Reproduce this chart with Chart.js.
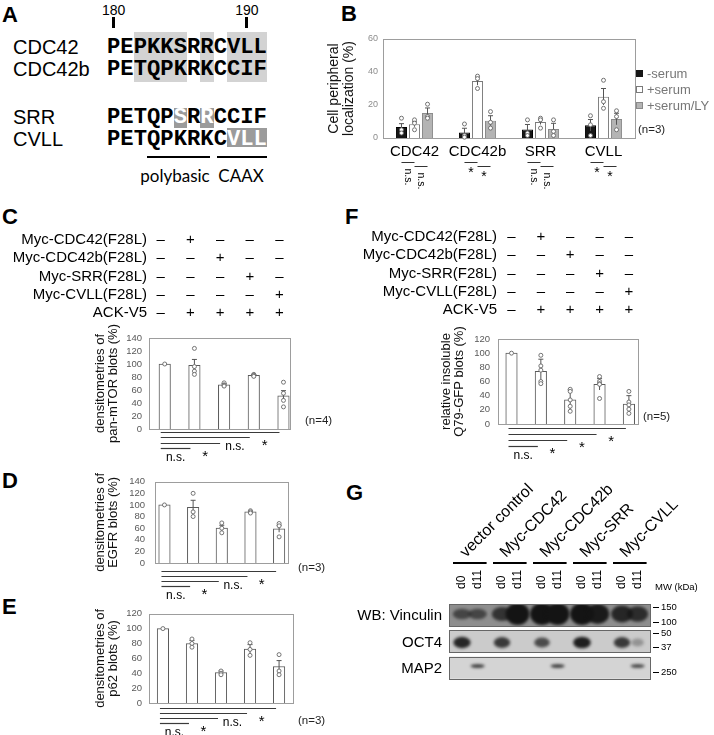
<!DOCTYPE html>
<html>
<head>
<meta charset="utf-8">
<script src="https://cdn.jsdelivr.net/npm/chart.js@4.4.1/dist/chart.umd.min.js"></script>
<style>
body { margin: 0; background: #fff; }
#page { position: relative; width: 714px; height: 735px; overflow: hidden; font-family: "Liberation Sans", Arial, sans-serif; color: #000; }
.t { position: absolute; white-space: pre; line-height: normal; }
.r { position: absolute; }
canvas { position: absolute; }
</style>
</head>
<body>
<div id="page"></div>
<script>
// ---- data ----
var seqNames = ['CDC42', 'CDC42b', 'SRR', 'CVLL'];
var seqs = ['PEPKKSRRCVLL', 'PETQPKRKCCIF', 'PETQPSRRCCIF', 'PETQPKRKCVLL'];

var locCats = ['CDC42', 'CDC42b', 'SRR', 'CVLL'];
var locSeries = ['-serum', '+serum', '+serum/LY'];
var locNoSerum = [6.7, 3.4, 5.2, 7.7];
var locSerum = [8.3, 34.5, 9.7, 25];
var locSerumLY = [15.2, 10.5, 5.4, 11.5];
var locNoSerumErr = [2, 2.5, 3, 3.5];
var locSerumErr = [1.5, 2.5, 1.5, 5];
var locSerumLYErr = [3, 3, 3.5, 3.5];
var locNoSerumPts = [[12, 5, 3], [8.5, 1.5, 0.5], [11, 3, 1.5], [13.5, 8, 1.5]];
var locSerumPts = [[11, 9, 5], [37.5, 36, 30], [12, 11, 6], [35, 22, 18]];
var locSerumLYPts = [[20.5, 13, 12], [16, 9.5, 6], [11, 4, 1.5], [16.5, 13, 5]];
var locSig = [['n.s.', 'n.s.'], ['*', '*'], ['n.s.', 'n.s.'], ['*', '*']];

var condRows = ['Myc-CDC42(F28L)', 'Myc-CDC42b(F28L)', 'Myc-SRR(F28L)', 'Myc-CVLL(F28L)', 'ACK-V5'];
var condSigns = [
    ['\u2013', '+', '\u2013', '\u2013', '\u2013'],
    ['\u2013', '\u2013', '+', '\u2013', '\u2013'],
    ['\u2013', '\u2013', '\u2013', '+', '\u2013'],
    ['\u2013', '\u2013', '\u2013', '\u2013', '+'],
    ['\u2013', '+', '+', '+', '+']
];

var mtorMeans = [100, 98, 68, 82.5, 51];
var mtorErr = [0, 9, 2, 1, 8];
var mtorPts = [[100], [124, 96, 89, 84], [71, 68, 67, 66], [84, 83, 82, 81], [72, 55, 44, 34]];
var mtorSig = ['n.s.', '*', 'n.s.', '*'];

var egfrMeans = [100, 96, 60, 88, 59];
var egfrErr = [0, 12, 5, 1.5, 6];
var egfrPts = [[100], [120, 88, 80], [69, 60, 52], [90, 88, 86], [68, 64, 45]];
var egfrSig = ['n.s.', '*', 'n.s.', '*'];

var p62Means = [100, 80, 41, 72.5, 49];
var p62Err = [0, 4, 2, 6, 8];
var p62Pts = [[100], [86, 80, 75], [43, 40, 38], [81, 72, 64], [65, 43, 38]];
var p62Sig = ['n.s.', '*', 'n.s.', '*'];

var q79Means = [100, 74.5, 34, 56, 28];
var q79Err = [0, 17, 14, 8, 12];
var q79Pts = [[100], [97, 82, 76, 60, 57], [49, 46, 34, 25, 18], [67, 60, 57, 56, 36], [46, 31, 27, 21, 15]];
var q79Sig = ['n.s.', '*', '*', '*'];

var laneGroups = ['vector control', 'Myc-CDC42', 'Myc-CDC42b', 'Myc-SRR', 'Myc-CVLL'];
var laneDays = ['d0', 'd11'];
var blotNames = ['WB: Vinculin', 'OCT4', 'MAP2'];
var vinculinBand = [0.6, 0.6, 0.75, 1, 1, 1, 1, 0.95, 0.85, 0.8];
var oct4Band = [0.9, 0, 0.8, 0, 0.7, 0, 0.95, 0, 0.8, 0.3];
var map2Band = [0, 0.85, 0, 0, 0, 0.85, 0, 0, 0, 0.8];
var mwLabels = ['150', '100', '50', '37', '250'];
var mwRowPos = [0.11, 0.68, 1.1, 1.63, 2.58];

// ---- helpers ----
var page = document.getElementById('page');
var SANS = '"Liberation Sans", Arial, sans-serif';
Chart.defaults.font.family = SANS;
Chart.defaults.color = '#000';

function txt(s, x, y, css, align) {
    var d = document.createElement('div');
    d.className = 't';
    d.style.cssText = css || '';
    d.style.left = x + 'px';
    d.style.top = y + 'px';
    var tx = align === 'right' ? '-100%' : (align === 'center' ? '-50%' : '0');
    d.style.transform = 'translate(' + tx + ',-50%)';
    d.textContent = s;
    page.appendChild(d);
    return d;
}
function rect(x, y, w, h, css) {
    var d = document.createElement('div');
    d.className = 'r';
    d.style.cssText = 'left:' + x + 'px;top:' + y + 'px;width:' + w + 'px;height:' + h + 'px;' + css;
    page.appendChild(d);
}
function addCanvas(x, y, w, h) {
    var c = document.createElement('canvas');
    c.width = w; c.height = h;
    c.style.left = x + 'px'; c.style.top = y + 'px';
    page.appendChild(c);
    return c;
}

// panel letters
[['A', 2, 15], ['B', 341, 14], ['C', 2, 217], ['F', 345, 217], ['D', 2, 481], ['G', 346, 493], ['E', 2, 607]].forEach(function (l) {
    txt(l[0], l[1], l[2], 'font-weight:bold;font-size:22px;');
});

// ---- panel A: sequences ----
var seqX = 107, cw = 13.32;
function seqRect(i0, i1, y0, y1, col) {
    rect(seqX + i0 * cw, y0, (i1 - i0 + 1) * cw, y1 - y0, 'background:' + col + ';');
}
seqRect(2, 5, 32, 82, '#d3d3d3');
seqRect(7, 7, 32, 82, '#d3d3d3');
seqRect(9, 11, 32, 82, '#d3d3d3');
seqRect(5, 5, 108, 128, '#9b9b9b');
seqRect(7, 7, 108, 128, '#9b9b9b');
seqRect(9, 11, 128, 147, '#9b9b9b');
var whiteIdx = [[], [], [5, 7], [9, 10, 11]];
var seqY = [47, 69, 117, 139];
seqs.forEach(function (s, r) {
    txt(seqNames[r], 13, seqY[r], 'font-size:20px;');
    var d = txt('', seqX, seqY[r], 'font-family:"Liberation Mono",monospace;font-weight:bold;font-size:22.2px;');
    s.split('').forEach(function (ch, i) {
        var sp = document.createElement('span');
        sp.textContent = ch;
        if (whiteIdx[r].indexOf(i) >= 0) sp.style.color = '#fff';
        d.appendChild(sp);
    });
});
txt('180', seqX + 0.5 * cw, 10, 'font-size:14px;', 'center');
txt('190', seqX + 10.5 * cw, 10, 'font-size:14px;', 'center');
rect(seqX + 0.5 * cw - 1.5, 17, 3, 11, 'background:#000;');
rect(seqX + 10.5 * cw - 1.5, 17, 3, 11, 'background:#000;');
rect(147, 156, 63, 2, 'background:#000;');
rect(217, 156, 50, 2, 'background:#000;');
txt('polybasic', 175, 175, 'font-family:Lato,"Noto Sans",sans-serif;font-size:17px;', 'center');
txt('CAAX', 241, 175, 'font-family:Lato,"Noto Sans",sans-serif;font-size:17px;', 'center');

// ---- shared chart plugins ----
var panelMarks = {
    id: 'panelMarks',
    afterDatasetsDraw: function (chart) {
        var ctx = chart.ctx, a = chart.chartArea, y = chart.scales.y;
        ctx.save();
        ctx.strokeStyle = '#9d9d9d';
        ctx.lineWidth = 1;
        ctx.strokeRect(Math.round(a.left) + 0.5, Math.round(a.top) + 0.5, Math.round(a.right - a.left), Math.round(a.bottom - a.top));
        chart.data.datasets.forEach(function (ds, di) {
            chart.getDatasetMeta(di).data.forEach(function (bar, i) {
                var v = ds.data[i];
                var m = typeof v === 'object' ? v.y : v;
                var e = ds.err[i];
                if (e) {
                    var t = y.getPixelForValue(m + e), b = y.getPixelForValue(m - e);
                    ctx.strokeStyle = '#555';
                    ctx.lineWidth = 1;
                    ctx.beginPath();
                    ctx.moveTo(bar.x, t); ctx.lineTo(bar.x, b);
                    ctx.moveTo(bar.x - 2.5, t); ctx.lineTo(bar.x + 2.5, t);
                    ctx.stroke();
                }
                ds.pts[i].forEach(function (p) {
                    ctx.beginPath();
                    ctx.arc(bar.x, y.getPixelForValue(p), 2, 0, 2 * Math.PI);
                    ctx.fillStyle = '#fff';
                    ctx.fill();
                    ctx.strokeStyle = '#666';
                    ctx.lineWidth = 0.9;
                    ctx.stroke();
                });
            });
        });
        ctx.restore();
    }
};

// stacked comparison lines under the single-series panels
var sigLines = {
    id: 'sigLines',
    afterDraw: function (chart, args, o) {
        var ctx = chart.ctx, bars = chart.getDatasetMeta(0).data, base = chart.chartArea.bottom;
        var n = bars.length, x0 = bars[0].x + o.dx, prev = x0;
        ctx.save();
        ctx.strokeStyle = '#3a3a3a';
        ctx.lineWidth = 1.2;
        ctx.fillStyle = '#000';
        ctx.textAlign = 'center';
        ctx.textBaseline = 'middle';
        for (var k = 1; k < n; k++) {
            var ly = Math.round(base + o.gap0 + (n - 1 - k) * o.step) + 0.5;
            var end = bars[k].x + o.dx;
            ctx.beginPath(); ctx.moveTo(x0, ly); ctx.lineTo(end, ly); ctx.stroke();
            var lab = o.labels[k - 1], mx = (prev + end) / 2;
            if (lab === '*') {
                ctx.font = '15px ' + SANS;
                ctx.fillText('*', mx, ly + 13);
            } else {
                ctx.font = '12px ' + SANS;
                ctx.fillText(lab, mx, ly + 9);
            }
            prev = end;
        }
        ctx.restore();
    }
};

var condTable = {
    id: 'condTable',
    afterDraw: function (chart, args, o) {
        var ctx = chart.ctx, bars = chart.getDatasetMeta(0).data;
        ctx.save();
        ctx.font = '15px ' + SANS;
        ctx.fillStyle = '#000';
        ctx.textBaseline = 'middle';
        condRows.forEach(function (name, r) {
            var yy = o.y0 + r * o.dy;
            ctx.textAlign = 'right';
            ctx.fillText(name, o.labelX, yy);
            ctx.textAlign = 'center';
            condSigns[r].forEach(function (s, c) {
                ctx.fillText(s, bars[c].x + o.dx, yy);
            });
        });
        ctx.restore();
    }
};

function barPanel(cfg) {
    var cv = addCanvas(cfg.x, cfg.y, cfg.w, cfg.h);
    var a = cfg.area;
    var plugs = { legend: { display: false }, tooltip: { enabled: false }, sigLines: cfg.sig };
    if (cfg.cond) plugs.condTable = cfg.cond;
    return new Chart(cv.getContext('2d'), {
        type: 'bar',
        data: {
            datasets: [{
                data: cfg.means.map(function (v, i) { return { x: i + 1, y: v }; }),
                err: cfg.err,
                pts: cfg.pts,
                backgroundColor: '#ffffff',
                borderColor: '#5a5a5a',
                borderWidth: 1,
                barThickness: 11.5
            }]
        },
        options: {
            responsive: false,
            animation: false,
            events: [],
            layout: { padding: { left: a.l - cfg.x - cfg.yw, right: cfg.x + cfg.w - a.r, top: a.t - cfg.y, bottom: cfg.y + cfg.h - a.b } },
            plugins: plugs,
            scales: {
                x: { type: 'linear', min: cfg.xMin, max: cfg.xMax, offset: false, display: false },
                y: {
                    min: 0, max: cfg.yMax,
                    grid: { display: false, drawTicks: false },
                    border: { display: false },
                    ticks: { stepSize: 20, autoSkip: false, padding: cfg.tickPad, color: '#595959', font: { size: 9.5 } },
                    title: { display: true, text: cfg.title, color: '#111', padding: 0, font: { size: 13, lineHeight: 1 } },
                    afterFit: function (s) { s.width = cfg.yw; }
                }
            }
        },
        plugins: cfg.cond ? [panelMarks, sigLines, condTable] : [panelMarks, sigLines]
    });
}

// ---- panel B ----
var pairSig = {
    id: 'pairSig',
    afterDraw: function (chart, args, o) {
        var ctx = chart.ctx, base = chart.chartArea.bottom;
        var metas = [0, 1, 2].map(function (d) { return chart.getDatasetMeta(d).data; });
        ctx.save();
        ctx.strokeStyle = '#333';
        ctx.lineWidth = 1;
        ctx.fillStyle = '#000';
        o.labels.forEach(function (pair, i) {
            var xs = [metas[0][i].x, metas[1][i].x, metas[2][i].x];
            for (var k = 0; k < 2; k++) {
                var ly = Math.round(base + o.gap + k * o.step) + 0.5;
                ctx.beginPath(); ctx.moveTo(xs[k], ly); ctx.lineTo(xs[k + 1], ly); ctx.stroke();
                var mx = (xs[k] + xs[k + 1]) / 2;
                if (pair[k] === '*') {
                    ctx.font = '14px ' + SANS;
                    ctx.textAlign = 'center';
                    ctx.textBaseline = 'middle';
                    ctx.fillText('*', mx, ly + 11);
                } else {
                    ctx.save();
                    ctx.translate(mx, ly + 6);
                    ctx.rotate(Math.PI / 2);
                    ctx.font = '10.5px ' + SANS;
                    ctx.textAlign = 'left';
                    ctx.textBaseline = 'middle';
                    ctx.fillText(pair[k], 0, 0);
                    ctx.restore();
                }
            }
        });
        ctx.restore();
    }
};

var bCanvas = addCanvas(322, 20, 320, 178);
new Chart(bCanvas.getContext('2d'), {
    type: 'bar',
    data: {
        labels: locCats,
        datasets: [
            { label: locSeries[0], data: locNoSerum, err: locNoSerumErr, pts: locNoSerumPts, backgroundColor: '#161616', borderColor: '#000', borderWidth: 1 },
            { label: locSeries[1], data: locSerum, err: locSerumErr, pts: locSerumPts, backgroundColor: '#ffffff', borderColor: '#7a7a7a', borderWidth: 1 },
            { label: locSeries[2], data: locSerumLY, err: locSerumLYErr, pts: locSerumLYPts, backgroundColor: '#b4b4b4', borderColor: '#8a8a8a', borderWidth: 1 }
        ]
    },
    options: {
        responsive: false,
        animation: false,
        events: [],
        categoryPercentage: 0.62,
        barPercentage: 0.85,
        layout: { padding: { left: 4.5, right: 7, top: 19, bottom: 30 } },
        plugins: { legend: { display: false }, tooltip: { enabled: false }, pairSig: { labels: locSig, gap: 24, step: 4 } },
        scales: {
            x: {
                grid: { display: false, drawTicks: false },
                border: { display: false },
                ticks: { padding: 5, color: '#000', font: { size: 15 }, maxRotation: 0, minRotation: 0, autoSkip: false },
                afterFit: function (s) { s.height = 30; }
            },
            y: {
                min: 0, max: 60,
                grid: { display: false, drawTicks: false },
                border: { display: false },
                ticks: { stepSize: 20, autoSkip: false, padding: 5, color: '#8c8c8c', font: { size: 9 } },
                title: { display: true, text: ['Cell peripheral', 'localization (%)'], color: '#111', padding: 0, font: { size: 14, lineHeight: 15 / 14 } },
                afterFit: function (s) { s.width = 56.5; }
            }
        }
    },
    plugins: [panelMarks, pairSig]
});

// legend for B
var legendY = [73, 89, 105];
var legendSw = ['background:#161616;', 'background:#fff;border:1px solid #7a7a7a;box-sizing:border-box;', 'background:#b4b4b4;border:1px solid #8a8a8a;box-sizing:border-box;'];
locSeries.forEach(function (s, i) {
    rect(636, legendY[i] - 3.5, 7, 7, legendSw[i]);
    txt(s, 647, legendY[i], 'font-size:13px;color:#777;');
});
txt('(n=3)', 638, 129, 'font-size:11.5px;color:#222;');

// ---- panels C, D, E, F ----
barPanel({
    x: 0, y: 226, w: 345, h: 240, yw: 55, tickPad: 7,
    area: { l: 149, r: 290, t: 338, b: 429 }, xMin: 0.47, xMax: 5.22, yMax: 140,
    means: mtorMeans, err: mtorErr, pts: mtorPts,
    title: ['densitometries of', 'pan-mTOR blots (%)'],
    sig: { labels: mtorSig, gap0: 3, step: 5.3, dx: -4 },
    cond: { y0: 14, dy: 18.2, labelX: 147, dx: -4 }
});
txt('(n=4)', 305, 420, 'font-size:11.5px;color:#222;');

barPanel({
    x: 0, y: 466, w: 345, h: 135, yw: 61, tickPad: 10,
    area: { l: 155, r: 288, t: 474, b: 563 }, xMin: 0.67, xMax: 5.31, yMax: 140,
    means: egfrMeans, err: egfrErr, pts: egfrPts,
    title: ['densitometries of', 'EGFR blots (%)'],
    sig: { labels: egfrSig, gap0: 8, step: 5, dx: -3 }
});
txt('(n=3)', 298, 567, 'font-size:11.5px;color:#222;');

barPanel({
    x: 0, y: 601, w: 345, h: 134, yw: 55, tickPad: 7,
    area: { l: 149, r: 293, t: 612, b: 703 }, xMin: 0.52, xMax: 5.48, yMax: 120,
    means: p62Means, err: p62Err, pts: p62Pts,
    title: ['densitometries of', 'p62 blots (%)'],
    sig: { labels: p62Sig, gap0: 5, step: 5, dx: -3 }
});
txt('(n=3)', 298, 720, 'font-size:11.5px;color:#222;');

barPanel({
    x: 345, y: 222, w: 369, h: 240, yw: 58, tickPad: 8,
    area: { l: 498, r: 638, t: 339, b: 424 }, xMin: 0.54, xMax: 5.31, yMax: 120,
    means: q79Means, err: q79Err, pts: q79Pts,
    title: ['relative insoluble', 'Q79-GFP blots (%)'],
    sig: { labels: q79Sig, gap0: 4, step: 6, dx: -3 },
    cond: { y0: 15, dy: 18.3, labelX: 152, dx: 0 }
});
txt('(n=5)', 643, 416, 'font-size:11.5px;color:#222;');

// ---- panel G: blot ----
var blotRows = [
    { bands: vinculinBand, bg: '#8e8e8e', cy: 0.45, rx: function (v) { return 5 + 7 * v; }, ry: function (v) { return 2 + 9 * v * v; } },
    { bands: oct4Band, bg: '#cbcbcb', cy: 0.55, rx: function (v) { return 5 + 4 * v; }, ry: function (v) { return 3 + 3 * v; } },
    { bands: map2Band, bg: '#d4d4d4', cy: 0.42, rx: function () { return 7; }, ry: function () { return 1.7; } }
];

var blotPlugin = {
    id: 'blot',
    afterDraw: function (chart) {
        var ctx = chart.ctx, x = chart.scales.x, y = chart.scales.y, a = chart.chartArea;
        var lanes = [];
        laneGroups.forEach(function (g, gi) {
            laneDays.forEach(function (d, di) { lanes.push(gi * 2 + di * 0.78); });
        });
        var left = x.getPixelForValue(-0.65), right = x.getPixelForValue(9.4);
        ctx.save();
        blotRows.forEach(function (row, ri) {
            var top = y.getPixelForValue(ri), bot = y.getPixelForValue(ri + 0.84), h = bot - top;
            ctx.fillStyle = row.bg;
            ctx.fillRect(left, top, right - left, h);
            ctx.save();
            ctx.beginPath(); ctx.rect(left, top, right - left, h); ctx.clip();
            ctx.filter = 'blur(1.5px)';
            row.bands.forEach(function (v, li) {
                if (!v) return;
                ctx.fillStyle = 'rgba(20,20,20,' + v + ')';
                ctx.beginPath();
                ctx.ellipse(x.getPixelForValue(lanes[li]), top + row.cy * h, row.rx(v), row.ry(v), 0, 0, 2 * Math.PI);
                ctx.fill();
            });
            ctx.restore();
            ctx.strokeStyle = '#666';
            ctx.lineWidth = 1;
            ctx.strokeRect(Math.round(left) + 0.5, Math.round(top) + 0.5, Math.round(right - left), Math.round(h));
            ctx.fillStyle = '#000';
            ctx.font = '15px ' + SANS;
            ctx.textAlign = 'right';
            ctx.textBaseline = 'middle';
            ctx.fillText(blotNames[ri], left - 7, top + h / 2 + 1);
        });
        // molecular weight marks
        ctx.font = '9.5px ' + SANS;
        ctx.textAlign = 'left';
        ctx.strokeStyle = '#000';
        mwLabels.forEach(function (m, i) {
            var my = Math.round(y.getPixelForValue(mwRowPos[i])) + 0.5;
            ctx.beginPath(); ctx.moveTo(right + 3, my); ctx.lineTo(right + 9, my); ctx.stroke();
            ctx.fillText(m, right + 11, my);
        });
        // lane labels
        ctx.font = '12px ' + SANS;
        lanes.forEach(function (l, li) {
            ctx.save();
            ctx.translate(x.getPixelForValue(l), a.top - 15);
            ctx.rotate(-Math.PI / 2);
            ctx.textBaseline = 'middle';
            ctx.fillText(laneDays[li % 2], 0, 0);
            ctx.restore();
        });
        // group bars and rotated group names
        ctx.lineWidth = 2;
        ctx.font = '16px ' + SANS;
        laneGroups.forEach(function (g, gi) {
            var gl = x.getPixelForValue(gi * 2) - 9, gr = x.getPixelForValue(gi * 2 + 0.78) + 9;
            ctx.beginPath(); ctx.moveTo(gl, a.top - 41); ctx.lineTo(gr, a.top - 41); ctx.stroke();
            ctx.save();
            ctx.translate(gl + 13, a.top - 46);
            ctx.rotate(-Math.PI / 4);
            ctx.textBaseline = 'alphabetic';
            ctx.fillText(g, 0, 0);
            ctx.restore();
        });
        ctx.restore();
    }
};

var gCanvas = addCanvas(355, 462, 359, 225);
new Chart(gCanvas.getContext('2d'), {
    type: 'scatter',
    data: { datasets: [{ data: [] }] },
    options: {
        responsive: false,
        animation: false,
        events: [],
        layout: { padding: { left: 94, right: 64, top: 142, bottom: 4 } },
        plugins: { legend: { display: false }, tooltip: { enabled: false } },
        scales: {
            x: { type: 'linear', min: -0.65, max: 9.4, display: false },
            y: { type: 'linear', min: 0, max: 3, reverse: true, display: false }
        }
    },
    plugins: [blotPlugin]
});
txt('MW (kDa)', 655, 586, 'font-size:9.5px;');
</script>
</body>
</html>
